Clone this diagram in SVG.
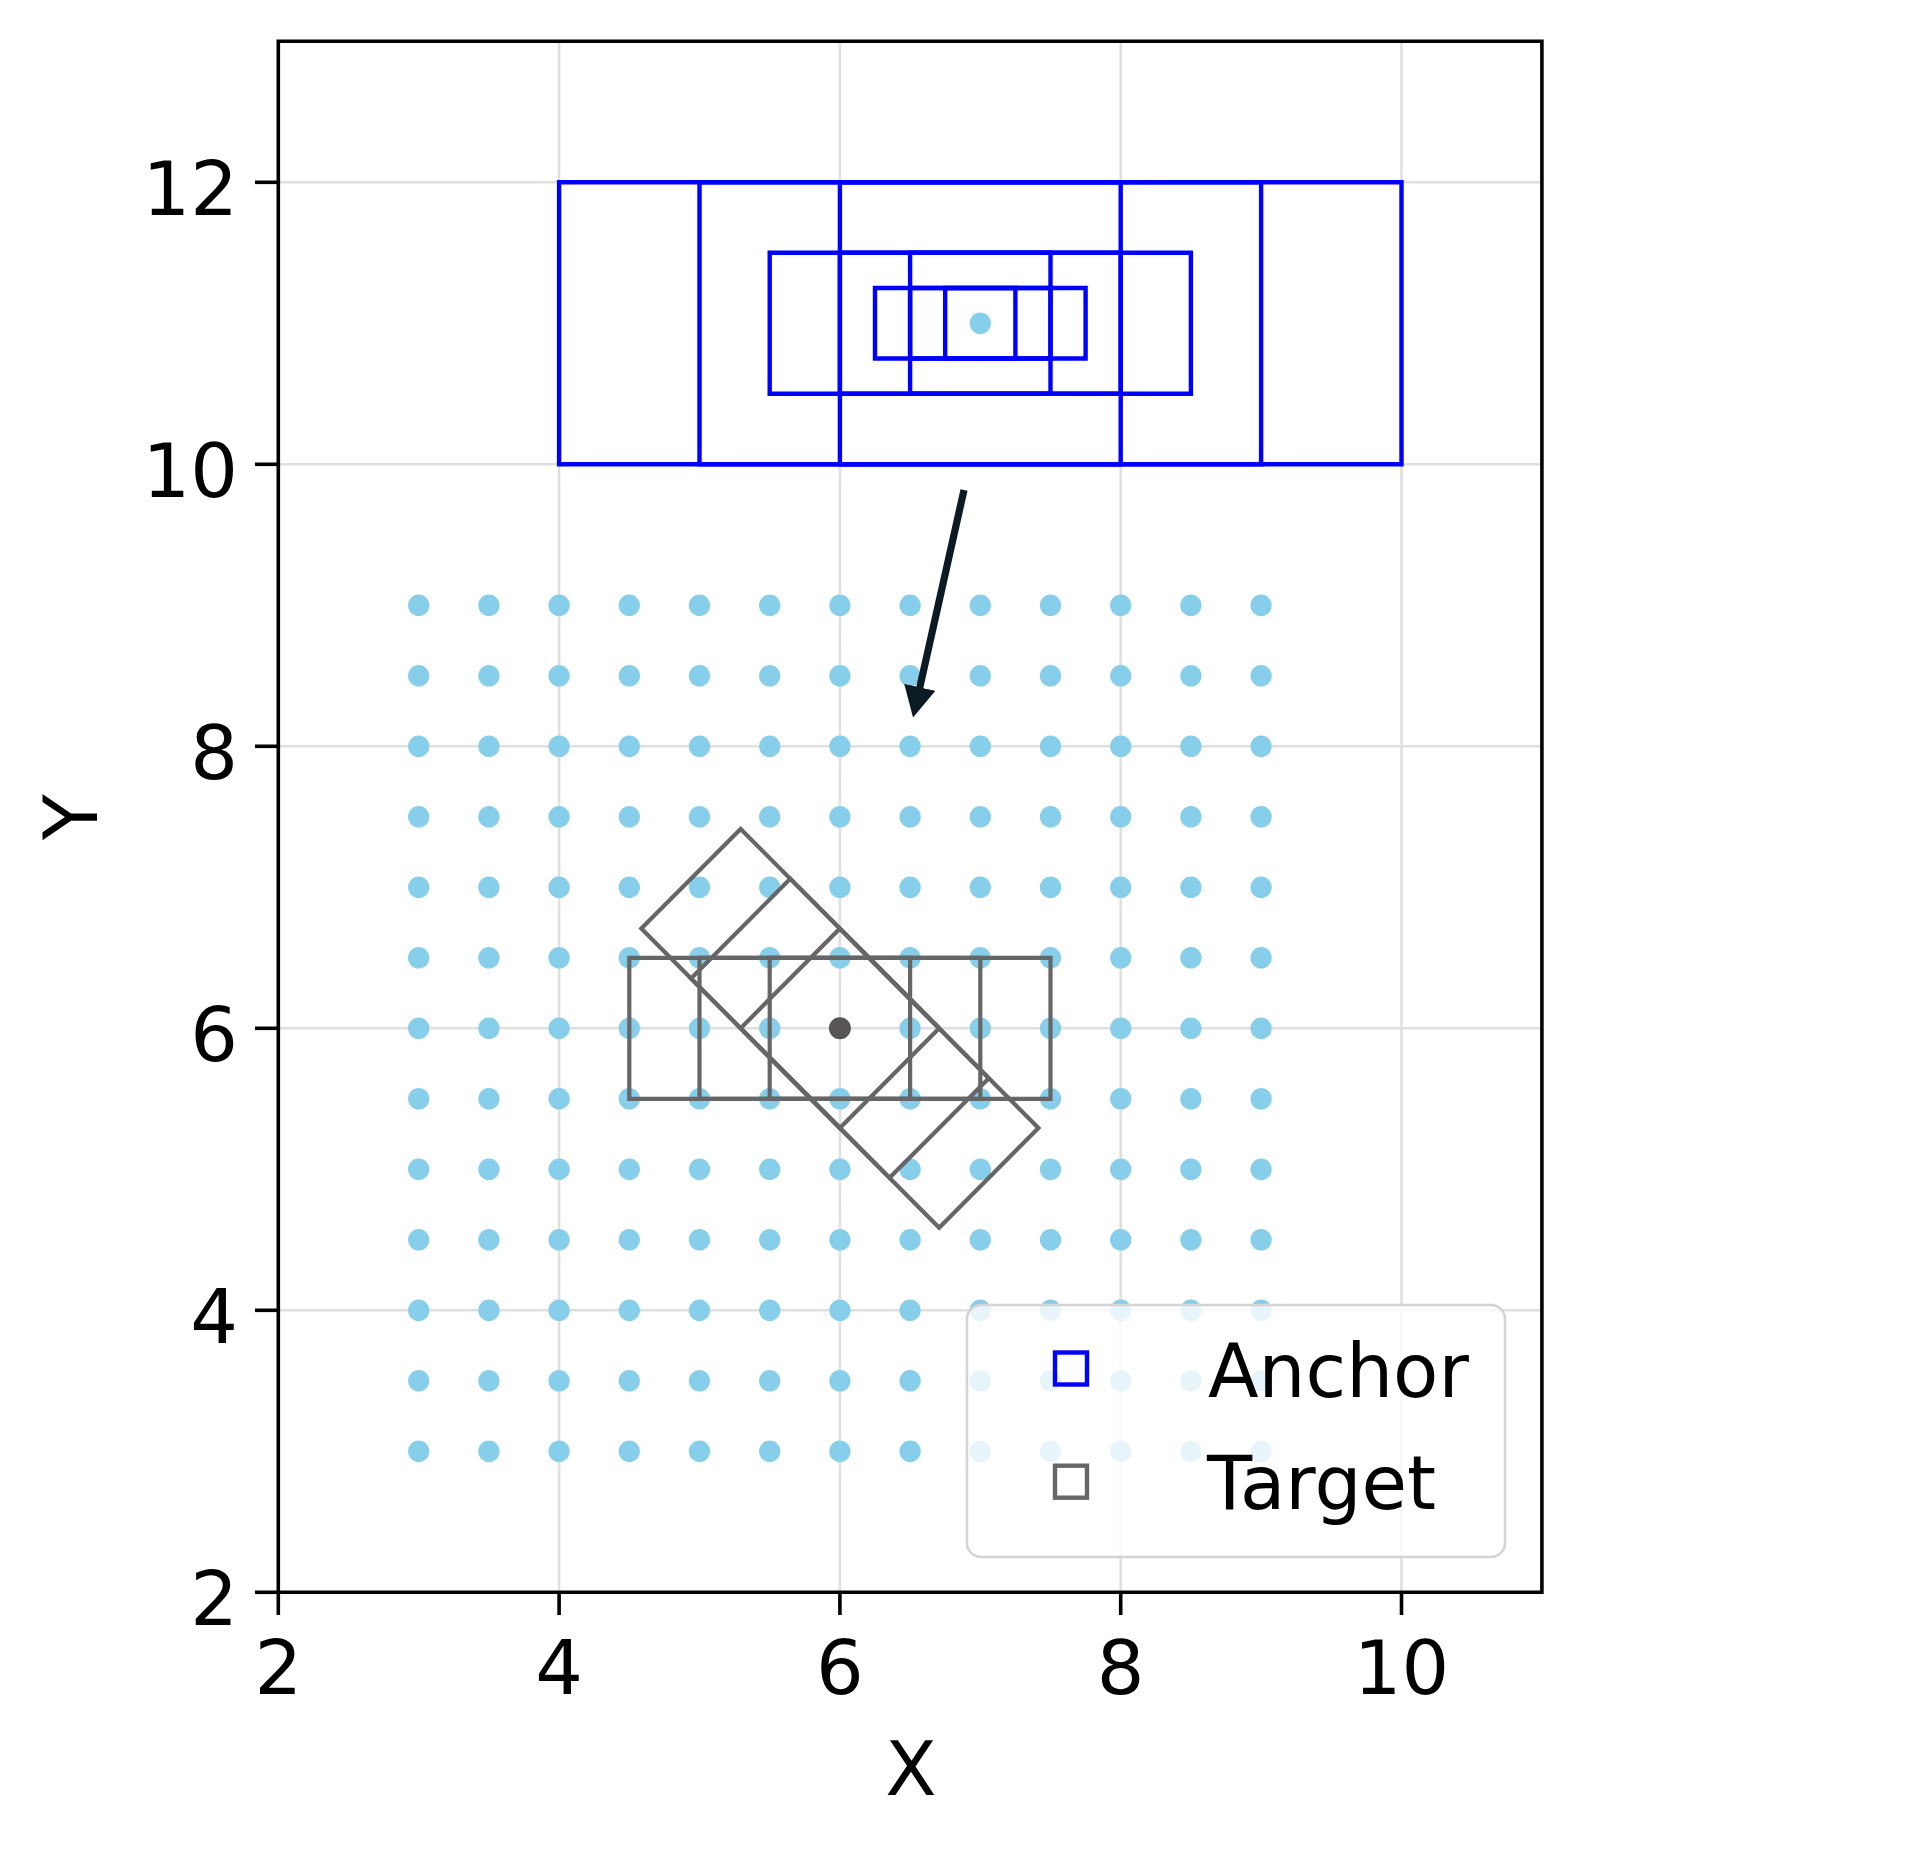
<svg xmlns="http://www.w3.org/2000/svg" width="1922" height="1850" viewBox="0 0 1922 1850">
<style>
.grid line{stroke:#e0e0e0;stroke-width:2.6;vector-effect:non-scaling-stroke}
.dots circle{fill:#87ceeb}
.anc rect{fill:none;stroke:#0000ff;stroke-width:4.4;vector-effect:non-scaling-stroke}
.tgt rect{fill:none;stroke:#666666;stroke-width:4.2;vector-effect:non-scaling-stroke}
.spine{fill:none;stroke:#000;stroke-width:3.6;vector-effect:non-scaling-stroke}
.tick line{stroke:#000;stroke-width:3.6}
text{font-family:"DejaVu Sans","Liberation Sans",sans-serif;fill:#000}
.tl{font-size:75px}
.lg{font-size:74px}
</style>
<defs>
<marker id="ah" markerUnits="userSpaceOnUse" viewBox="0 0 31 32" markerWidth="31" markerHeight="32" refX="1" refY="16" orient="auto">
<path d="M0,0 L31,16 L0,32 z" fill="#0c1a24"/>
</marker>
</defs>
<rect width="1922" height="1850" fill="#fff"/>
<g id="plot" transform="matrix(140.4 0 0 -141 -2.5 1874.3)">
<g id="grid" class="grid">
<line x1="4" y1="2" x2="4" y2="13"/><line x1="6" y1="2" x2="6" y2="13"/><line x1="8" y1="2" x2="8" y2="13"/><line x1="10" y1="2" x2="10" y2="13"/>
<line x1="2" y1="4" x2="11" y2="4"/><line x1="2" y1="6" x2="11" y2="6"/><line x1="2" y1="8" x2="11" y2="8"/><line x1="2" y1="10" x2="11" y2="10"/><line x1="2" y1="12" x2="11" y2="12"/>
</g>
<g id="dots" class="dots">
<circle cx="3" cy="9" r=".076"/><circle cx="3.5" cy="9" r=".076"/><circle cx="4" cy="9" r=".076"/><circle cx="4.5" cy="9" r=".076"/><circle cx="5" cy="9" r=".076"/><circle cx="5.5" cy="9" r=".076"/><circle cx="6" cy="9" r=".076"/><circle cx="6.5" cy="9" r=".076"/><circle cx="7" cy="9" r=".076"/><circle cx="7.5" cy="9" r=".076"/><circle cx="8" cy="9" r=".076"/><circle cx="8.5" cy="9" r=".076"/><circle cx="9" cy="9" r=".076"/>
<circle cx="3" cy="8.5" r=".076"/><circle cx="3.5" cy="8.5" r=".076"/><circle cx="4" cy="8.5" r=".076"/><circle cx="4.5" cy="8.5" r=".076"/><circle cx="5" cy="8.5" r=".076"/><circle cx="5.5" cy="8.5" r=".076"/><circle cx="6" cy="8.5" r=".076"/><circle cx="6.5" cy="8.5" r=".076"/><circle cx="7" cy="8.5" r=".076"/><circle cx="7.5" cy="8.5" r=".076"/><circle cx="8" cy="8.5" r=".076"/><circle cx="8.5" cy="8.5" r=".076"/><circle cx="9" cy="8.5" r=".076"/>
<circle cx="3" cy="8" r=".076"/><circle cx="3.5" cy="8" r=".076"/><circle cx="4" cy="8" r=".076"/><circle cx="4.5" cy="8" r=".076"/><circle cx="5" cy="8" r=".076"/><circle cx="5.5" cy="8" r=".076"/><circle cx="6" cy="8" r=".076"/><circle cx="6.5" cy="8" r=".076"/><circle cx="7" cy="8" r=".076"/><circle cx="7.5" cy="8" r=".076"/><circle cx="8" cy="8" r=".076"/><circle cx="8.5" cy="8" r=".076"/><circle cx="9" cy="8" r=".076"/>
<circle cx="3" cy="7.5" r=".076"/><circle cx="3.5" cy="7.5" r=".076"/><circle cx="4" cy="7.5" r=".076"/><circle cx="4.5" cy="7.5" r=".076"/><circle cx="5" cy="7.5" r=".076"/><circle cx="5.5" cy="7.5" r=".076"/><circle cx="6" cy="7.5" r=".076"/><circle cx="6.5" cy="7.5" r=".076"/><circle cx="7" cy="7.5" r=".076"/><circle cx="7.5" cy="7.5" r=".076"/><circle cx="8" cy="7.5" r=".076"/><circle cx="8.5" cy="7.5" r=".076"/><circle cx="9" cy="7.5" r=".076"/>
<circle cx="3" cy="7" r=".076"/><circle cx="3.5" cy="7" r=".076"/><circle cx="4" cy="7" r=".076"/><circle cx="4.5" cy="7" r=".076"/><circle cx="5" cy="7" r=".076"/><circle cx="5.5" cy="7" r=".076"/><circle cx="6" cy="7" r=".076"/><circle cx="6.5" cy="7" r=".076"/><circle cx="7" cy="7" r=".076"/><circle cx="7.5" cy="7" r=".076"/><circle cx="8" cy="7" r=".076"/><circle cx="8.5" cy="7" r=".076"/><circle cx="9" cy="7" r=".076"/>
<circle cx="3" cy="6.5" r=".076"/><circle cx="3.5" cy="6.5" r=".076"/><circle cx="4" cy="6.5" r=".076"/><circle cx="4.5" cy="6.5" r=".076"/><circle cx="5" cy="6.5" r=".076"/><circle cx="5.5" cy="6.5" r=".076"/><circle cx="6" cy="6.5" r=".076"/><circle cx="6.5" cy="6.5" r=".076"/><circle cx="7" cy="6.5" r=".076"/><circle cx="7.5" cy="6.5" r=".076"/><circle cx="8" cy="6.5" r=".076"/><circle cx="8.5" cy="6.5" r=".076"/><circle cx="9" cy="6.5" r=".076"/>
<circle cx="3" cy="6" r=".076"/><circle cx="3.5" cy="6" r=".076"/><circle cx="4" cy="6" r=".076"/><circle cx="4.5" cy="6" r=".076"/><circle cx="5" cy="6" r=".076"/><circle cx="5.5" cy="6" r=".076"/><circle cx="6" cy="6" r=".076"/><circle cx="6.5" cy="6" r=".076"/><circle cx="7" cy="6" r=".076"/><circle cx="7.5" cy="6" r=".076"/><circle cx="8" cy="6" r=".076"/><circle cx="8.5" cy="6" r=".076"/><circle cx="9" cy="6" r=".076"/>
<circle cx="3" cy="5.5" r=".076"/><circle cx="3.5" cy="5.5" r=".076"/><circle cx="4" cy="5.5" r=".076"/><circle cx="4.5" cy="5.5" r=".076"/><circle cx="5" cy="5.5" r=".076"/><circle cx="5.5" cy="5.5" r=".076"/><circle cx="6" cy="5.5" r=".076"/><circle cx="6.5" cy="5.5" r=".076"/><circle cx="7" cy="5.5" r=".076"/><circle cx="7.5" cy="5.5" r=".076"/><circle cx="8" cy="5.5" r=".076"/><circle cx="8.5" cy="5.5" r=".076"/><circle cx="9" cy="5.5" r=".076"/>
<circle cx="3" cy="5" r=".076"/><circle cx="3.5" cy="5" r=".076"/><circle cx="4" cy="5" r=".076"/><circle cx="4.5" cy="5" r=".076"/><circle cx="5" cy="5" r=".076"/><circle cx="5.5" cy="5" r=".076"/><circle cx="6" cy="5" r=".076"/><circle cx="6.5" cy="5" r=".076"/><circle cx="7" cy="5" r=".076"/><circle cx="7.5" cy="5" r=".076"/><circle cx="8" cy="5" r=".076"/><circle cx="8.5" cy="5" r=".076"/><circle cx="9" cy="5" r=".076"/>
<circle cx="3" cy="4.5" r=".076"/><circle cx="3.5" cy="4.5" r=".076"/><circle cx="4" cy="4.5" r=".076"/><circle cx="4.5" cy="4.5" r=".076"/><circle cx="5" cy="4.5" r=".076"/><circle cx="5.5" cy="4.5" r=".076"/><circle cx="6" cy="4.5" r=".076"/><circle cx="6.5" cy="4.5" r=".076"/><circle cx="7" cy="4.5" r=".076"/><circle cx="7.5" cy="4.5" r=".076"/><circle cx="8" cy="4.5" r=".076"/><circle cx="8.5" cy="4.5" r=".076"/><circle cx="9" cy="4.5" r=".076"/>
<circle cx="3" cy="4" r=".076"/><circle cx="3.5" cy="4" r=".076"/><circle cx="4" cy="4" r=".076"/><circle cx="4.5" cy="4" r=".076"/><circle cx="5" cy="4" r=".076"/><circle cx="5.5" cy="4" r=".076"/><circle cx="6" cy="4" r=".076"/><circle cx="6.5" cy="4" r=".076"/><circle cx="7" cy="4" r=".076"/><circle cx="7.5" cy="4" r=".076"/><circle cx="8" cy="4" r=".076"/><circle cx="8.5" cy="4" r=".076"/><circle cx="9" cy="4" r=".076"/>
<circle cx="3" cy="3.5" r=".076"/><circle cx="3.5" cy="3.5" r=".076"/><circle cx="4" cy="3.5" r=".076"/><circle cx="4.5" cy="3.5" r=".076"/><circle cx="5" cy="3.5" r=".076"/><circle cx="5.5" cy="3.5" r=".076"/><circle cx="6" cy="3.5" r=".076"/><circle cx="6.5" cy="3.5" r=".076"/><circle cx="7" cy="3.5" r=".076"/><circle cx="7.5" cy="3.5" r=".076"/><circle cx="8" cy="3.5" r=".076"/><circle cx="8.5" cy="3.5" r=".076"/><circle cx="9" cy="3.5" r=".076"/>
<circle cx="3" cy="3" r=".076"/><circle cx="3.5" cy="3" r=".076"/><circle cx="4" cy="3" r=".076"/><circle cx="4.5" cy="3" r=".076"/><circle cx="5" cy="3" r=".076"/><circle cx="5.5" cy="3" r=".076"/><circle cx="6" cy="3" r=".076"/><circle cx="6.5" cy="3" r=".076"/><circle cx="7" cy="3" r=".076"/><circle cx="7.5" cy="3" r=".076"/><circle cx="8" cy="3" r=".076"/><circle cx="8.5" cy="3" r=".076"/><circle cx="9" cy="3" r=".076"/>
</g>
<g id="anchors" class="anc">
<rect x="4" y="10" width="6" height="2"/>
<rect x="5" y="10" width="4" height="2"/>
<rect x="6" y="10" width="2" height="2"/>
<rect x="5.5" y="10.5" width="3" height="1"/>
<rect x="6" y="10.5" width="2" height="1"/>
<rect x="6.5" y="10.5" width="1" height="1"/>
<rect x="6.25" y="10.75" width="1.5" height="0.5"/>
<rect x="6.5" y="10.75" width="1" height="0.5"/>
<rect x="6.75" y="10.75" width="0.5" height="0.5"/>
<circle cx="7" cy="11" r=".076" fill="#87ceeb"/>
</g>
<g id="targets" class="tgt">
<rect x="4.5" y="5.5" width="3" height="1"/>
<rect x="5" y="5.5" width="2" height="1"/>
<rect x="5.5" y="5.5" width="1" height="1"/>
<g transform="rotate(-45 6 6)">
<rect x="4.5" y="5.5" width="3" height="1"/>
<rect x="5" y="5.5" width="2" height="1"/>
<rect x="5.5" y="5.5" width="1" height="1"/>
</g>
<circle cx="6" cy="6" r=".078" fill="#555555"/>
</g>
<rect id="spines" class="spine" x="2" y="2" width="9" height="11"/>
</g>
<g id="connectors">
<line x1="964" y1="490" x2="919.6" y2="688.3" stroke="#0c1a24" stroke-width="7.2" marker-end="url(#ah)"/>
</g>
<g id="axes-ticks" class="tick">
<line x1="278.3" y1="1592.3" x2="278.3" y2="1615"/>
<line x1="559.1" y1="1592.3" x2="559.1" y2="1615"/>
<line x1="839.9" y1="1592.3" x2="839.9" y2="1615"/>
<line x1="1120.7" y1="1592.3" x2="1120.7" y2="1615"/>
<line x1="1401.5" y1="1592.3" x2="1401.5" y2="1615"/>
<line x1="255" y1="182.3" x2="278.3" y2="182.3"/>
<line x1="255" y1="464.3" x2="278.3" y2="464.3"/>
<line x1="255" y1="746.3" x2="278.3" y2="746.3"/>
<line x1="255" y1="1028.3" x2="278.3" y2="1028.3"/>
<line x1="255" y1="1310.3" x2="278.3" y2="1310.3"/>
<line x1="255" y1="1592.3" x2="278.3" y2="1592.3"/>
</g>
<g id="tick-labels" class="tl">
<text x="278.3" y="1694" text-anchor="middle">2</text>
<text x="559.1" y="1694" text-anchor="middle">4</text>
<text x="839.9" y="1694" text-anchor="middle">6</text>
<text x="1120.7" y="1694" text-anchor="middle">8</text>
<text x="1401.5" y="1694" text-anchor="middle">10</text>
<text x="238" y="215.3" text-anchor="end">12</text>
<text x="238" y="497.3" text-anchor="end">10</text>
<text x="238" y="779.3" text-anchor="end">8</text>
<text x="238" y="1061.3" text-anchor="end">6</text>
<text x="238" y="1343.3" text-anchor="end">4</text>
<text x="238" y="1625.3" text-anchor="end">2</text>
</g>
<g id="axis-labels" class="tl">
<text x="911" y="1795" text-anchor="middle">X</text>
<text transform="translate(97 817) rotate(-90)" text-anchor="middle">Y</text>
</g>
<g id="legend">
<rect x="967" y="1305" width="538" height="252" rx="14" fill="#ffffff" fill-opacity="0.8" stroke="#d4d4d4" stroke-width="2.6"/>
<rect x="1055" y="1352.5" width="32" height="32" fill="none" stroke="#0000ff" stroke-width="4.4"/>
<rect x="1055" y="1465.7" width="32" height="32" fill="none" stroke="#666666" stroke-width="4.4"/>
<text class="lg" x="1208" y="1396.5">Anchor</text>
<text class="lg" x="1207" y="1509">Target</text>
</g>
</svg>
